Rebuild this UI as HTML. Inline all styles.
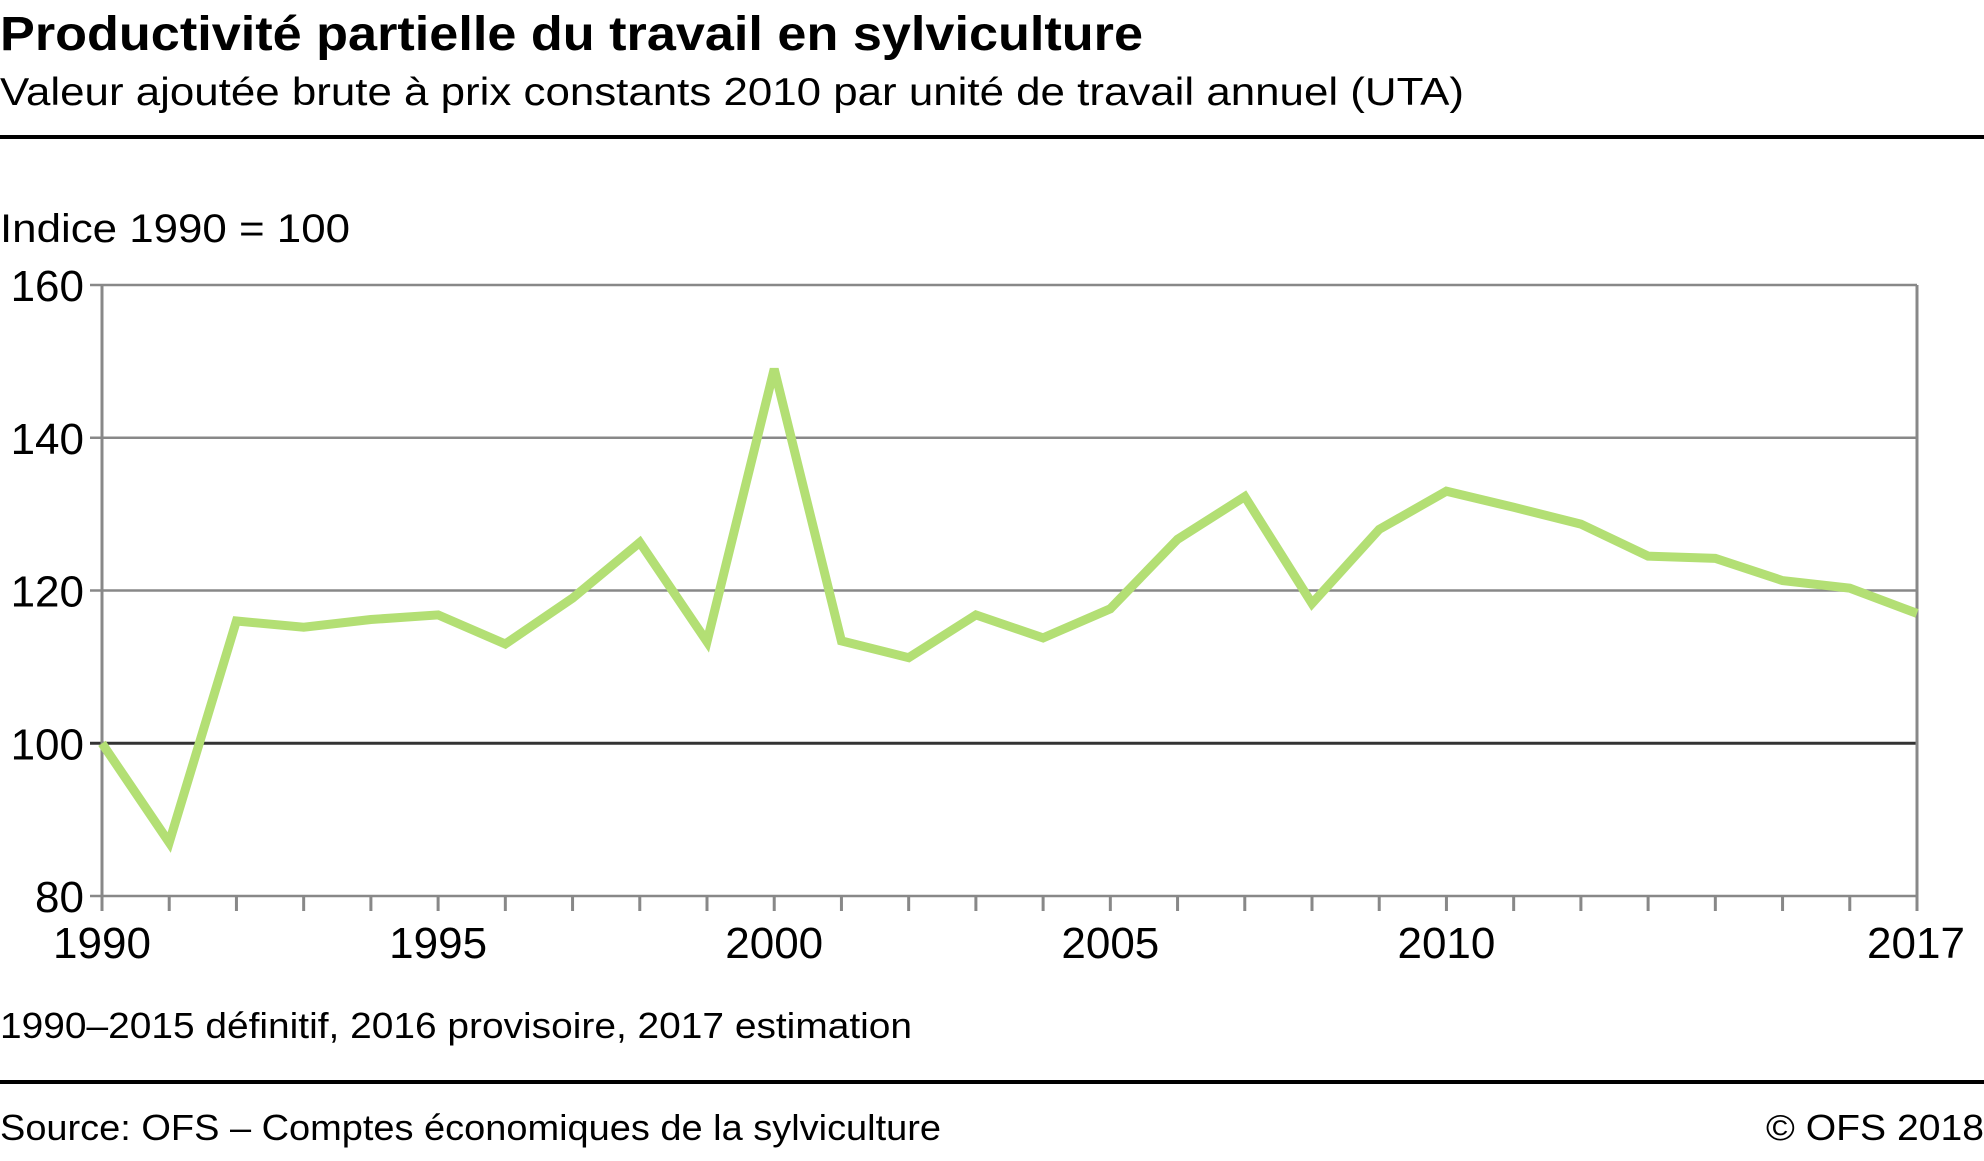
<!DOCTYPE html>
<html><head><meta charset="utf-8"><style>
html,body{margin:0;padding:0;background:#fff}
svg{display:block;font-family:"Liberation Sans",sans-serif}
</style></head><body>
<svg id="chart" width="1984" height="1161" viewBox="0 0 1984 1161" xmlns="http://www.w3.org/2000/svg">
<text x="0" y="50" font-size="48" font-weight="bold" textLength="1143" lengthAdjust="spacingAndGlyphs">Productivité partielle du travail en sylviculture</text>
<text x="0" y="105" font-size="39" textLength="1464" lengthAdjust="spacingAndGlyphs">Valeur ajoutée brute à prix constants 2010 par unité de travail annuel (UTA)</text>
<rect x="0" y="135" width="1984" height="4" fill="#000"/>
<text x="0" y="242" font-size="40" textLength="350" lengthAdjust="spacingAndGlyphs">Indice 1990 = 100</text>
<g id="grid"></g><g id="axes"></g><g id="series"></g>
<text x="0" y="1038" font-size="36" textLength="912" lengthAdjust="spacingAndGlyphs">1990–2015 définitif, 2016 provisoire, 2017 estimation</text>
<rect x="0" y="1080" width="1984" height="4" fill="#000"/>
<text x="0" y="1140" font-size="36" textLength="941" lengthAdjust="spacingAndGlyphs">Source: OFS – Comptes économiques de la sylviculture</text>
<text x="1766" y="1140" font-size="36" textLength="218" lengthAdjust="spacingAndGlyphs">© OFS  2018</text>
</svg>
<script>
const years=[1990,1991,1992,1993,1994,1995,1996,1997,1998,1999,2000,2001,2002,2003,2004,2005,2006,2007,2008,2009,2010,2011,2012,2013,2014,2015,2016,2017];
const values=[100,87,116,115.2,116.2,116.8,113,119,126.3,113.3,149,113.4,111.2,116.8,113.8,117.6,126.7,132.3,118.3,128,133,130.9,128.7,124.5,124.2,121.3,120.3,117];
const yTicks=[80,100,120,140,160];
const xLabels=[1990,1995,2000,2005,2010,2017];
const NS="http://www.w3.org/2000/svg";
const L=102,R=1917,T=285,B=896;
const x=v=>L+(v-1990)/(2017-1990)*(R-L);
const y=v=>B-(v-80)/(160-80)*(B-T);
function mk(t,a,p){const e=document.createElementNS(NS,t);for(const k in a)e.setAttribute(k,a[k]);p.appendChild(e);return e;}
const grid=document.getElementById('grid'),axes=document.getElementById('axes'),series=document.getElementById('series');
yTicks.forEach(v=>{
  const l=mk('line',{x1:L-12,x2:R,y1:y(v),y2:y(v),stroke:v===100?'#333':'#888','stroke-width':v===100?3:2.5},grid);
  
  
  const t=mk('text',{x:L-18,y:y(v)+16,'font-size':44,'text-anchor':'end'},axes);t.textContent=v;
  
  
});
const ya=mk('line',{x1:L,x2:L,y1:T,y2:B,stroke:'#888','stroke-width':3},axes);


const ra=mk('line',{x1:R,x2:R,y1:T,y2:B,stroke:'#888','stroke-width':3},axes);


years.forEach(yr=>{
  const tk=mk('line',{x1:x(yr),x2:x(yr),y1:B,y2:B+15,stroke:'#888','stroke-width':3},axes);
  
  
});
xLabels.forEach((yr,i)=>{
  const t=mk('text',{x:x(yr)+(i===xLabels.length-1?-1:0),y:958,'font-size':44,'text-anchor':'middle'},axes);t.textContent=yr;
  
  
});
const pts=years.map((yr,i)=>x(yr).toFixed(1)+','+y(values[i]).toFixed(1)).join(' ');
const pl=mk('polyline',{points:pts,fill:'none',stroke:'#b3df74','stroke-width':9,'stroke-linejoin':'miter','stroke-miterlimit':3},series);


</script>
</body></html>
